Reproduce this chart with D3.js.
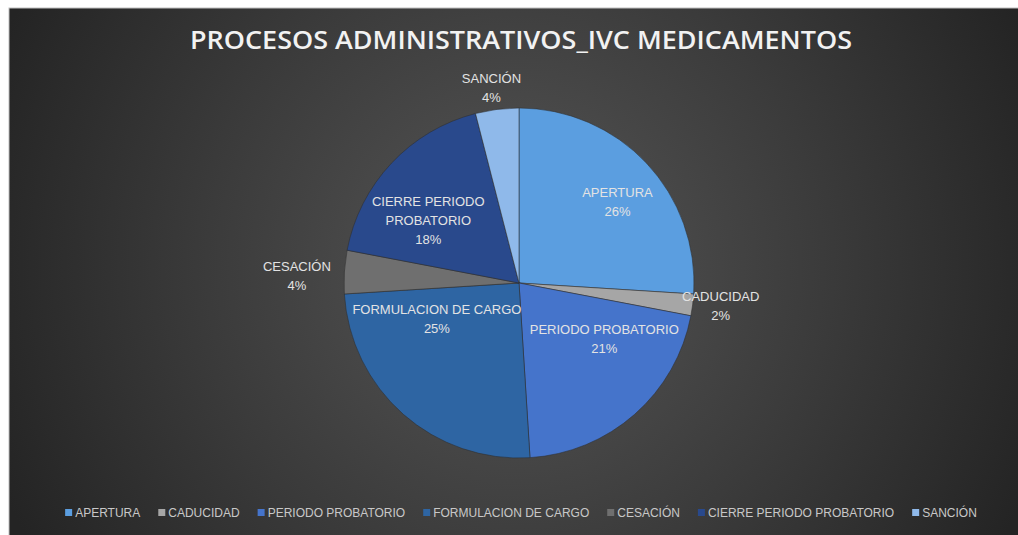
<!DOCTYPE html>
<html>
<head>
<meta charset="utf-8">
<script src="https://cdn.jsdelivr.net/npm/d3@7"></script>
<style>
  html, body { margin: 0; padding: 0; background: #ffffff; }
  svg { display: block; }
  text { font-family: "Liberation Sans Narrow", "Liberation Sans", Arial, sans-serif; }
</style>
</head>
<body>
<svg id="chart" width="1018" height="535"></svg>
<script>
// Chart data (percent of administrative processes)
var categories = ['APERTURA', 'CADUCIDAD', 'PERIODO PROBATORIO', 'FORMULACION DE CARGO',
                  'CESACIÓN', 'CIERRE PERIODO PROBATORIO', 'SANCIÓN'];
var values = [26, 2, 21, 25, 4, 18, 4];
var colors = ['#5b9ee0', '#a6a6a6', '#4574cb', '#2e65a3', '#6f6f6f', '#29498c', '#8fb9ea'];
var title = 'PROCESOS ADMINISTRATIVOS_IVC MEDICAMENTOS';

// Label lines (Excel wraps long names)
var labelLines = [['APERTURA'], ['CADUCIDAD'], ['PERIODO PROBATORIO'], ['FORMULACION DE CARGO'],
                  ['CESACIÓN'], ['CIERRE PERIODO', 'PROBATORIO'], ['SANCIÓN']];
// Label placement: [angle shift in degrees, radius as fraction of pie radius]
var labelPlace = [[3.6, 0.73], [-0.7, 1.16], [-15.7, 0.58], [25.5, 0.51],
                  [-1.6, 1.27], [-8.6, 0.63], [-0.8, 1.13]];

var svg = d3.select('#chart');
var W = 1018, H = 535;

// Background with radial shading
var defs = svg.append('defs');
var grad = defs.append('radialGradient')
    .attr('id', 'bg')
    .attr('gradientUnits', 'userSpaceOnUse')
    .attr('cx', 515).attr('cy', 265).attr('r', 560);
grad.append('stop').attr('offset', 0).attr('stop-color', '#565656');
grad.append('stop').attr('offset', 0.55).attr('stop-color', '#3b3b3b');
grad.append('stop').attr('offset', 1).attr('stop-color', '#242424');

svg.append('rect')
    .attr('x', 9).attr('y', 8)
    .attr('width', W).attr('height', H)
    .style('fill', 'url(#bg)')
    .style('stroke', '#bfbfbf')
    .style('stroke-width', 1);

// Title
svg.append('text')
    .attr('x', 521).attr('y', 49)
    .attr('text-anchor', 'middle')
    .attr('textLength', 662)
    .attr('lengthAdjust', 'spacingAndGlyphs')
    .style('font-family', '"Open Sans", "Liberation Sans", sans-serif')
    .style('font-size', '25px')
    .style('font-weight', 600)
    .style('fill', '#f2f2f2')
    .text(title);

// Pie
var cx = 519, cy = 283, radius = 175;
var data = categories.map(function(c, i) { return { name: c, value: values[i], i: i }; });
var pie = d3.pie().sort(null).value(function(d) { return d.value; });
var arc = d3.arc().innerRadius(0).outerRadius(radius);
var arcs = pie(data);

var gPie = svg.append('g').attr('transform', 'translate(' + cx + ',' + cy + ')');
gPie.selectAll('path.slice')
    .data(arcs)
    .enter()
    .append('path')
    .attr('class', 'slice')
    .attr('d', arc)
    .style('fill', function(d) { return colors[d.data.i]; })
    .style('stroke', 'rgba(45,45,45,0.55)')
    .style('stroke-width', 1);

// Data labels
var total = d3.sum(values);
var gLabels = gPie.selectAll('g.label')
    .data(arcs)
    .enter()
    .append('g')
    .attr('class', 'label')
    .attr('transform', function(d) {
        var p = labelPlace[d.data.i];
        var a = (d.startAngle + d.endAngle) / 2 + p[0] * Math.PI / 180;
        var r = radius * p[1];
        return 'translate(' + (r * Math.sin(a)) + ',' + (-r * Math.cos(a)) + ')';
    });

gLabels.each(function(d) {
    var lines = labelLines[d.data.i].concat([Math.round(d.data.value / total * 100) + '%']);
    var g = d3.select(this);
    var lh = 19;
    var y0 = -(lines.length - 1) * lh / 2 + 5;
    lines.forEach(function(t, k) {
        g.append('text')
            .attr('x', 0)
            .attr('y', y0 + k * lh)
            .attr('text-anchor', 'middle')
            .style('font-size', '13px')
            .style('fill', '#e3e3e3')
            .text(t);
    });
});

// Legend
var gLegend = svg.append('g').attr('transform', 'translate(0, 517)');
var items = gLegend.selectAll('g.item')
    .data(categories)
    .enter()
    .append('g')
    .attr('class', 'item');
items.append('rect')
    .attr('x', 0).attr('y', -8)
    .attr('width', 7).attr('height', 7)
    .style('fill', function(d, i) { return colors[i]; });
items.append('text')
    .attr('x', 10).attr('y', 0)
    .style('font-size', '12px')
    .style('fill', '#c8c8c8')
    .text(function(d) { return d; });

var itemGap = 18;
var widths = [];
items.each(function() {
    widths.push(10 + d3.select(this).select('text').node().getComputedTextLength());
});
var totalW = d3.sum(widths) + itemGap * (widths.length - 1);
var xPos = 521 - totalW / 2;
items.attr('transform', function(d, i) {
    var x = xPos;
    xPos += widths[i] + itemGap;
    return 'translate(' + x + ',0)';
});
</script>
</body>
</html>
